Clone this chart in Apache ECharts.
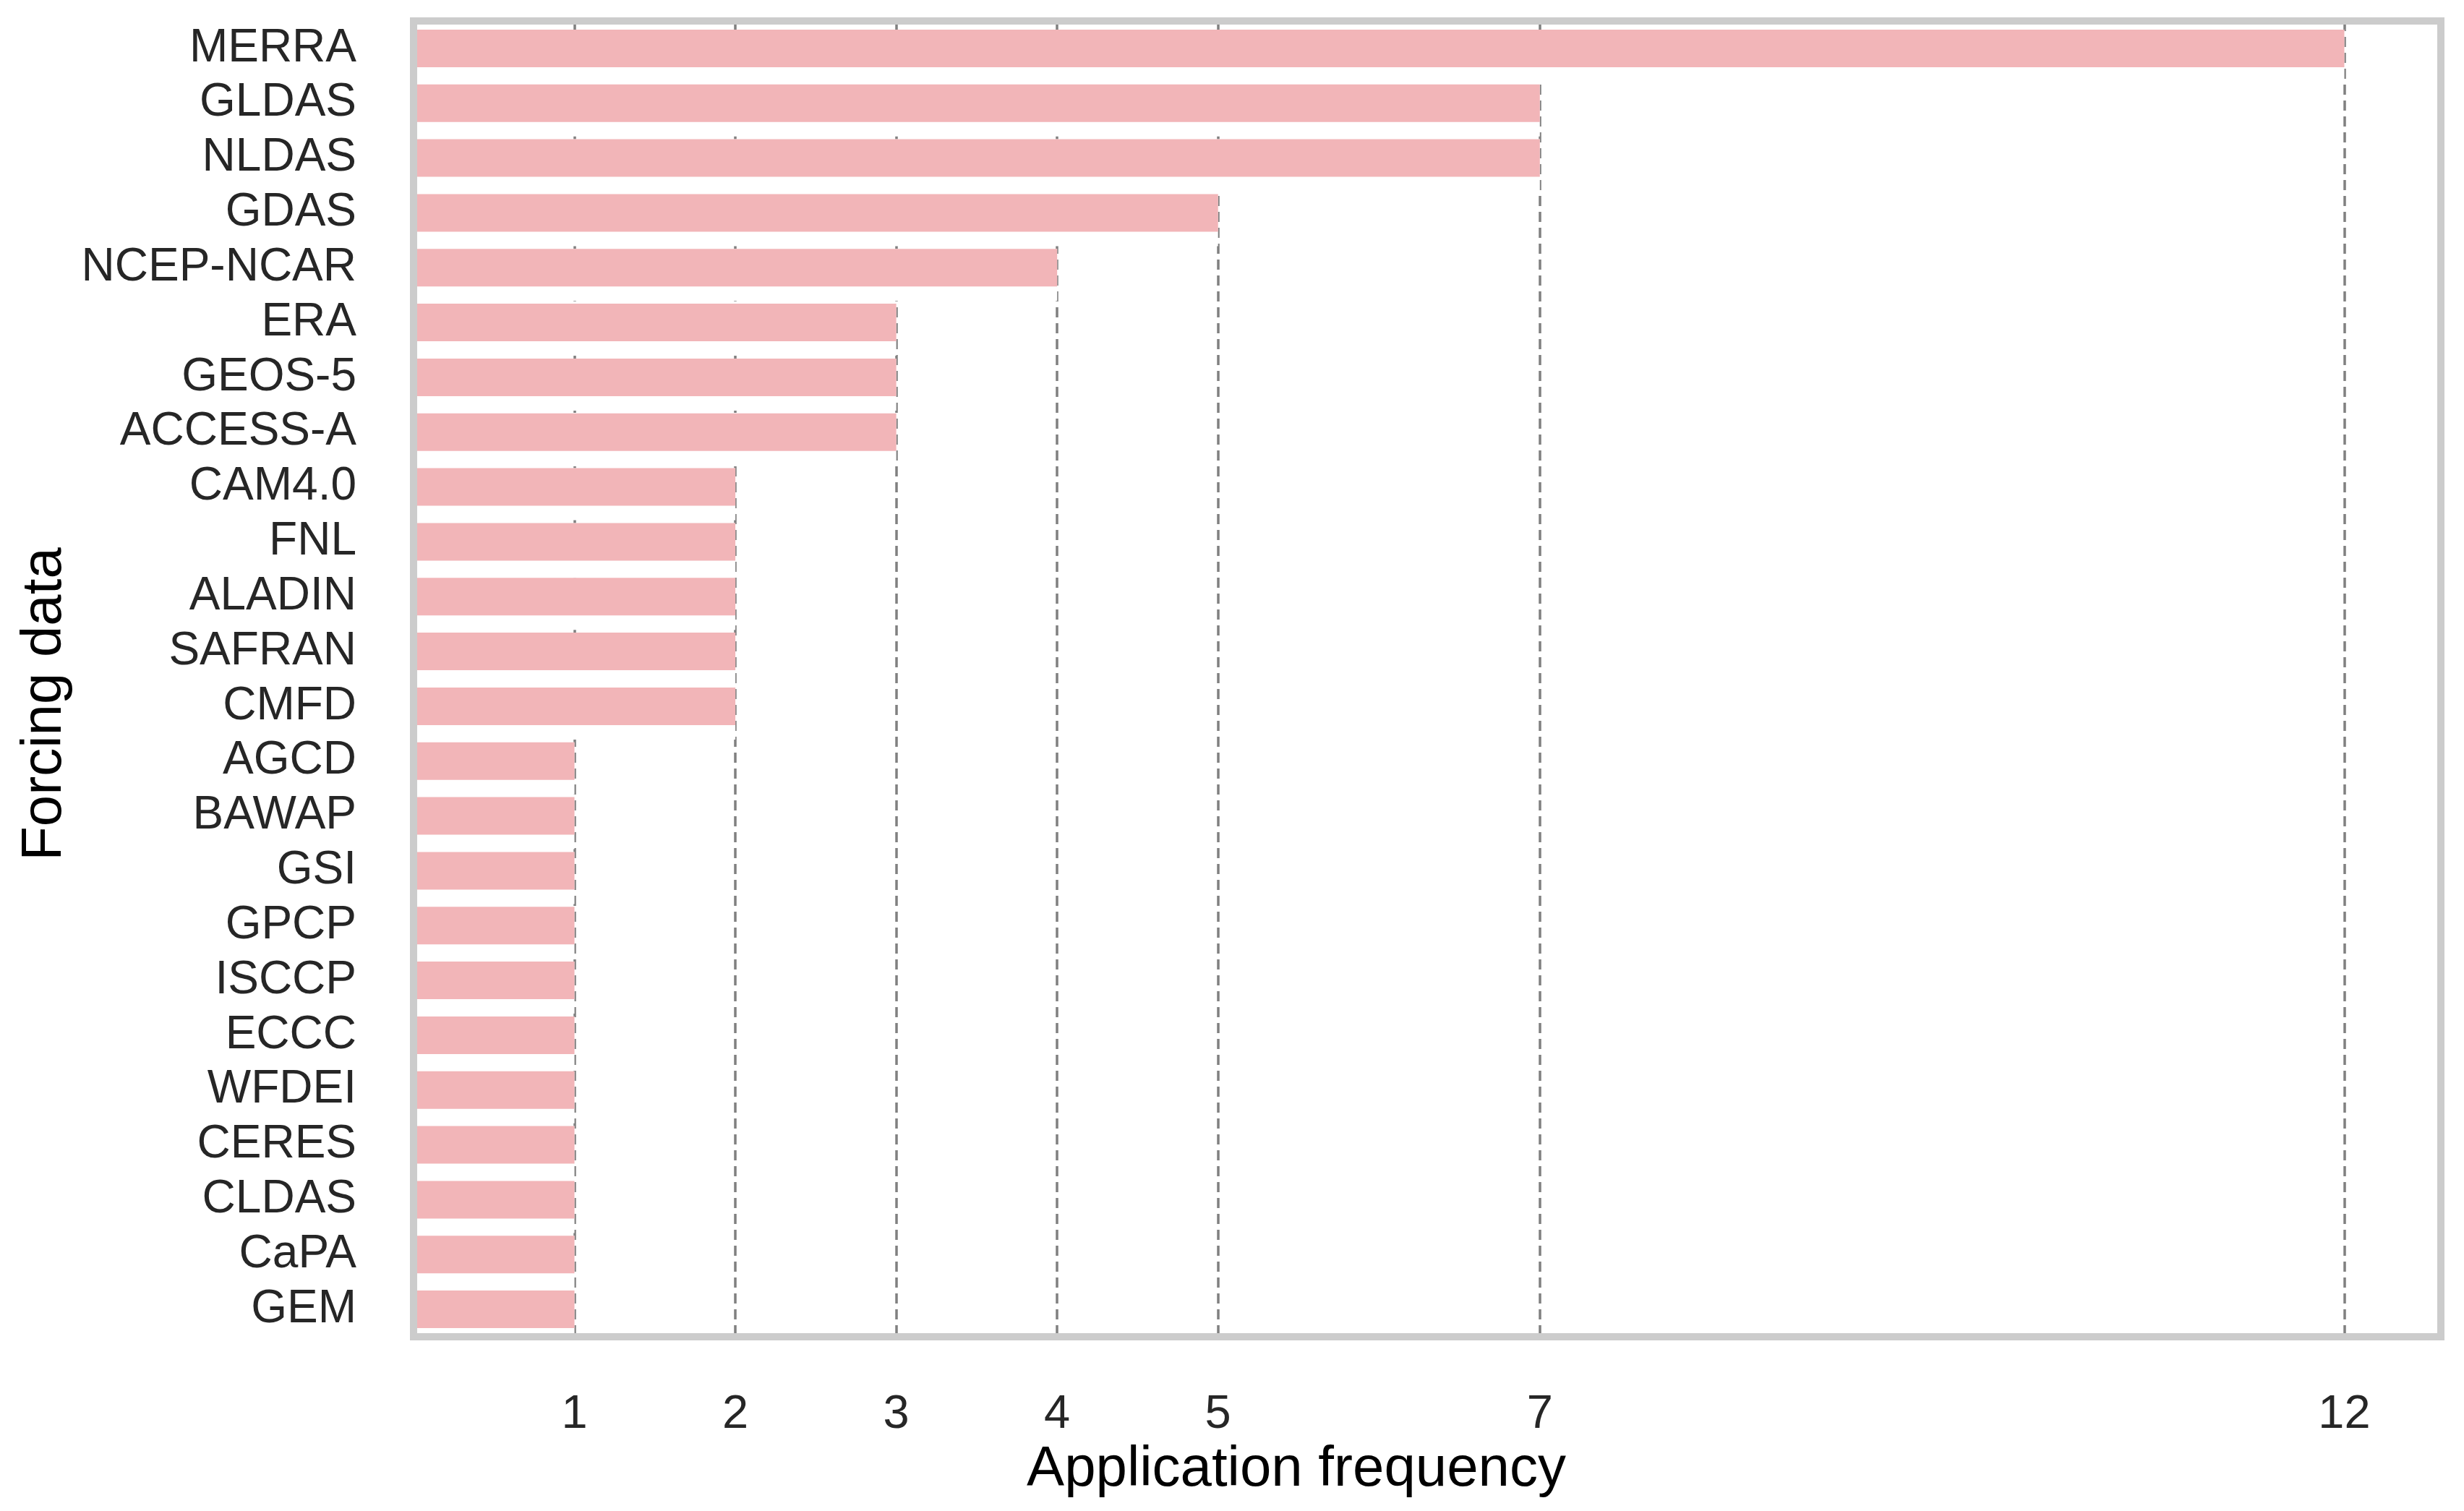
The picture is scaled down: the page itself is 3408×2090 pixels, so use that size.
<!DOCTYPE html>
<html>
<head>
<meta charset="utf-8">
<script src="https://cdn.jsdelivr.net/npm/echarts@6/dist/echarts.min.js"></script>
<style>
html,body{margin:0;padding:0;background:#fff;}
#chart{width:3408px;height:2090px;}
</style>
</head>
<body>
<div id="chart"></div>
<script>
const categories = ['MERRA','GLDAS','NLDAS','GDAS','NCEP-NCAR','ERA','GEOS-5','ACCESS-A','CAM4.0','FNL','ALADIN','SAFRAN','CMFD','AGCD','BAWAP','GSI','GPCP','ISCCP','ECCC','WFDEI','CERES','CLDAS','CaPA','GEM'];
const frequency = [12,7,7,5,4,3,3,3,2,2,2,2,2,1,1,1,1,1,1,1,1,1,1,1];
const xTicks = [1,2,3,4,5,7,12];

const FONT = "'Liberation Sans', Arial, sans-serif";
const chart = echarts.init(document.getElementById('chart'), null, {renderer:'canvas'});
chart.setOption({
  animation: false,
  backgroundColor: '#ffffff',
  grid: {
    left: 572, right: 32, top: 29, bottom: 241,
    show: true, z: 10,
    borderColor: '#cccccc', borderWidth: 10,
    backgroundColor: 'transparent'
  },
  xAxis: {
    type: 'value', min: 0, max: 12.6,
    name: 'Application frequency',
    nameLocation: 'middle', nameGap: 142,
    nameTextStyle: {fontFamily: FONT, fontSize: 78, color: '#000000', padding: [0, 362, 0, 0]},
    axisLine: {show: false},
    axisTick: {show: false, customValues: xTicks},
    axisLabel: {customValues: xTicks, fontFamily: FONT, fontSize: 65, color: '#262626', margin: 76},
    splitLine: {show: true, lineStyle: {color: '#808080', width: 3.5, type: [14, 8]}}
  },
  yAxis: {
    type: 'category', data: categories, inverse: true,
    name: 'Forcing data',
    nameLocation: 'middle', nameGap: 460,
    nameTextStyle: {fontFamily: FONT, fontSize: 78, color: '#000000', padding: [0, 70, 0, 0]},
    axisLine: {show: false},
    axisTick: {show: false},
    splitLine: {show: false},
    axisLabel: {interval: 0, fontFamily: FONT, fontSize: 64, color: '#262626', margin: 79}
  },
  series: [{
    type: 'bar',
    data: frequency,
    barWidth: 72,
    barGap: '-100%',
    itemStyle: {color: '#ffffff'},
    silent: true,
    z: 1
  }, {
    type: 'bar',
    data: frequency,
    barWidth: 52,
    barGap: '-100%',
    itemStyle: {color: '#f2b5b8'},
    z: 2
  }]
});
</script>
</body>
</html>
